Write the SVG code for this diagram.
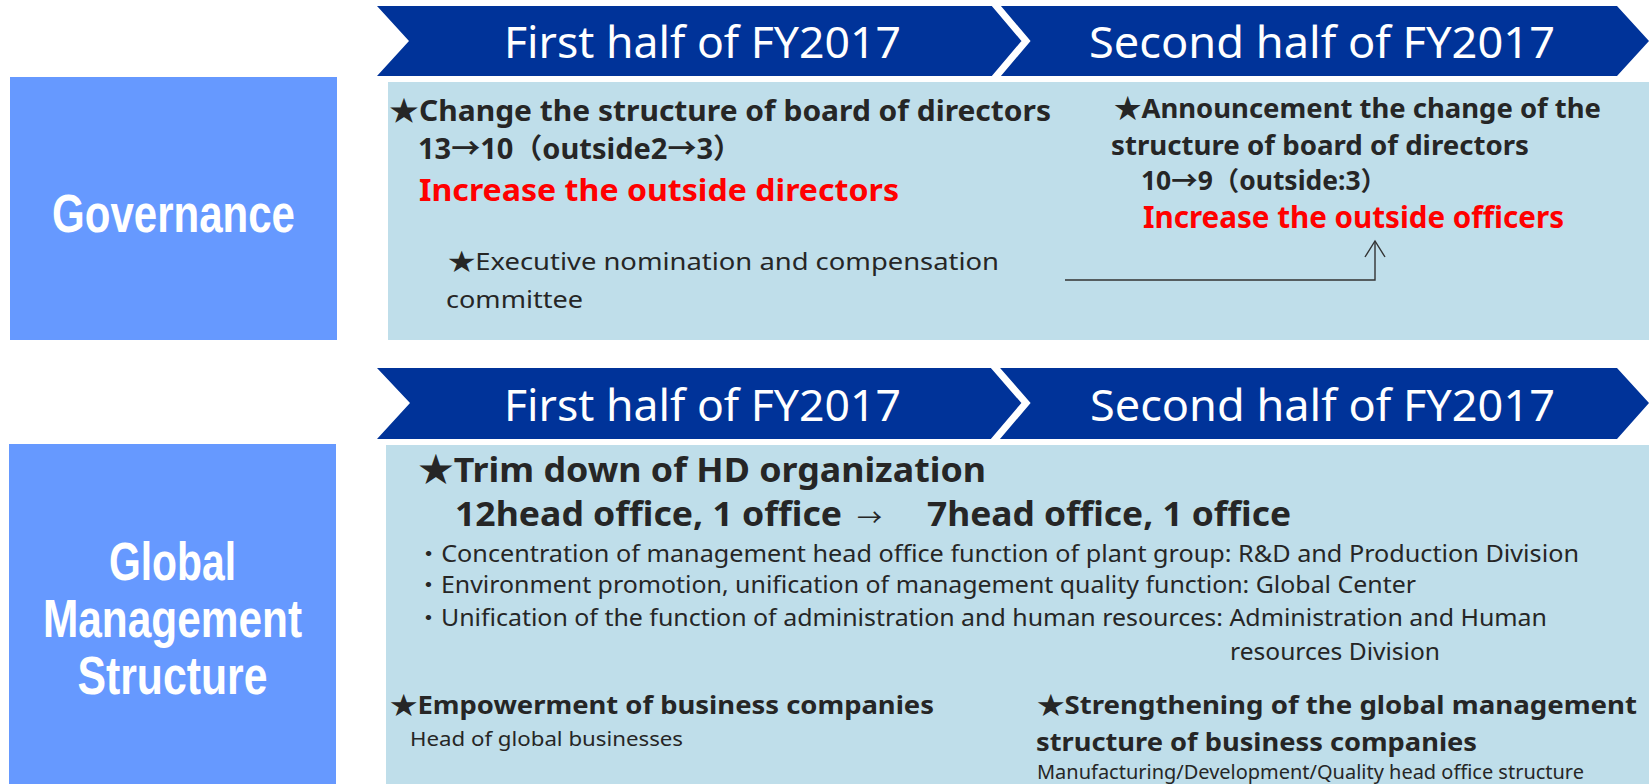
<svg xmlns="http://www.w3.org/2000/svg" width="1649" height="784" viewBox="0 0 1649 784">
  <defs>
    <style>
      .band { fill: #003399; }
      .sep { fill: none; stroke: #ffffff; stroke-width: 7; stroke-linejoin: miter; }
      .side { fill: #6699ff; }
      .panel { fill: #bfdeea; }
      .bandtxt { font-family: "Noto Sans", "Open Sans", sans-serif; font-size: 43px; fill: #ffffff; }
      .sidetxt { font-family: "Liberation Sans", Arial, sans-serif; font-weight: 700; font-size: 53px; fill: #ffffff; text-anchor: middle; }
      .b { font-family: "Noto Sans", "Noto Sans CJK JP", sans-serif; font-weight: 700; fill: #262626; }
      .r { font-family: "Noto Sans", "Noto Sans CJK JP", sans-serif; font-weight: 400; fill: #262626; }
      .red { fill: #ff0000; }
      .link { fill: none; stroke: #333333; stroke-width: 1.4; }
    </style>
    <marker id="openArrow" viewBox="0 0 20 22" refX="18" refY="11" markerWidth="20" markerHeight="22" markerUnits="userSpaceOnUse" orient="auto">
      <path d="M2,1 L18,11 L2,21" fill="none" stroke="#333333" stroke-width="1.4"/>
    </marker>
  </defs>

  <rect width="1649" height="784" fill="#ffffff"/>

  <!-- Governance row -->
  <g id="governance-label">
    <rect class="side" x="10" y="77" width="327" height="263"/>
    <text class="sidetxt" x="173.5" y="232" textLength="243" lengthAdjust="spacingAndGlyphs">Governance</text>
  </g>

  <g id="governance-timeline">
    <polygon class="band" points="377,6 1617,6 1649,41 1617,76 377,76 409,41"/>
    <polyline class="sep" points="993,2 1026,41 993,80"/>
    <text class="bandtxt" x="504" y="58" textLength="397" lengthAdjust="spacingAndGlyphs">First half of FY2017</text>
    <text class="bandtxt" x="1089" y="58" textLength="466" lengthAdjust="spacingAndGlyphs">Second half of FY2017</text>
  </g>

  <g id="governance-panel">
    <rect class="panel" x="388" y="82" width="1261" height="258"/>
  </g>

  <g id="governance-first-half">
    <text class="b" x="389" y="121" font-size="28" textLength="662" lengthAdjust="spacingAndGlyphs">★Change the structure of board of directors</text>
    <text class="b" x="418" y="159" font-size="28" textLength="324" lengthAdjust="spacingAndGlyphs">13→10（outside2→3）</text>
    <text class="b red" x="419" y="201" font-size="31" textLength="480" lengthAdjust="spacingAndGlyphs">Increase the outside directors</text>
    <text class="r" x="448" y="270" font-size="24" textLength="551" lengthAdjust="spacingAndGlyphs">★Executive nomination and compensation</text>
    <text class="r" x="446" y="308" font-size="24" textLength="137" lengthAdjust="spacingAndGlyphs">committee</text>
  </g>

  <g id="governance-second-half">
    <text class="b" x="1114" y="118" font-size="27" textLength="487" lengthAdjust="spacingAndGlyphs">★Announcement the change of the</text>
    <text class="b" x="1111" y="155" font-size="27" textLength="418" lengthAdjust="spacingAndGlyphs">structure of board of directors</text>
    <text class="b" x="1141" y="190" font-size="26" textLength="246" lengthAdjust="spacingAndGlyphs">10→9（outside:3）</text>
    <text class="b red" x="1143" y="228" font-size="31" textLength="421" lengthAdjust="spacingAndGlyphs">Increase the outside officers</text>
  </g>

  <g id="connectors">
    <polyline class="link" points="1065,280 1375,280 1375,241" marker-end="url(#openArrow)"/>
  </g>

  <!-- Global management structure row -->
  <g id="global-label">
    <rect class="side" x="9" y="444" width="327" height="345"/>
    <text class="sidetxt" x="172.5" y="580" textLength="127" lengthAdjust="spacingAndGlyphs">Global</text>
    <text class="sidetxt" x="172.5" y="637" textLength="259" lengthAdjust="spacingAndGlyphs">Management</text>
    <text class="sidetxt" x="172.5" y="694" textLength="190" lengthAdjust="spacingAndGlyphs">Structure</text>
  </g>

  <g id="global-timeline">
    <polygon class="band" points="377,368 1617,368 1649,403 1617,439 377,439 410,403"/>
    <polyline class="sep" points="992,364 1026,403 992,443"/>
    <text class="bandtxt" x="504" y="421" textLength="397" lengthAdjust="spacingAndGlyphs">First half of FY2017</text>
    <text class="bandtxt" x="1090" y="421" textLength="465" lengthAdjust="spacingAndGlyphs">Second half of FY2017</text>
  </g>

  <g id="global-panel">
    <rect class="panel" x="386" y="445" width="1263" height="344"/>
  </g>

  <g id="hd-trim">
    <text class="b" x="418" y="482" font-size="34" textLength="568" lengthAdjust="spacingAndGlyphs">★Trim down of HD organization</text>
    <text class="b" x="455" y="526" font-size="34" textLength="387" lengthAdjust="spacingAndGlyphs">12head office, 1 office</text>
    <text class="r" x="857" y="526" font-size="24" textLength="25" lengthAdjust="spacingAndGlyphs">→</text>
    <text class="b" x="927" y="526" font-size="34" textLength="364" lengthAdjust="spacingAndGlyphs">7head office, 1 office</text>
    <text class="r" x="416" y="562" font-size="24" textLength="1163" lengthAdjust="spacingAndGlyphs">・Concentration of management head office function of plant group: R&amp;D and Production Division</text>
    <text class="r" x="416" y="593" font-size="24" textLength="1000" lengthAdjust="spacingAndGlyphs">・Environment promotion, unification of management quality function: Global Center</text>
    <text class="r" x="416" y="626" font-size="24" textLength="1131" lengthAdjust="spacingAndGlyphs">・Unification of the function of administration and human resources: Administration and Human</text>
    <text class="r" x="1230" y="660" font-size="24" textLength="210" lengthAdjust="spacingAndGlyphs">resources Division</text>
  </g>

  <g id="empowerment">
    <text class="b" x="390" y="714" font-size="25" textLength="544" lengthAdjust="spacingAndGlyphs">★Empowerment of business companies</text>
    <text class="r" x="410" y="746" font-size="20" textLength="273" lengthAdjust="spacingAndGlyphs">Head of global businesses</text>
  </g>

  <g id="strengthening">
    <text class="b" x="1037" y="714" font-size="25" textLength="600" lengthAdjust="spacingAndGlyphs">★Strengthening of the global management</text>
    <text class="b" x="1036" y="751" font-size="25" textLength="441" lengthAdjust="spacingAndGlyphs">structure of business companies</text>
    <text class="r" x="1037" y="779" font-size="19" textLength="547" lengthAdjust="spacingAndGlyphs">Manufacturing/Development/Quality head office structure</text>
  </g>
</svg>
